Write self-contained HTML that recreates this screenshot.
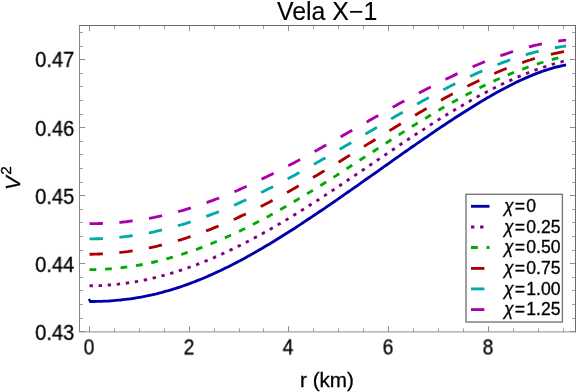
<!DOCTYPE html>
<html><head><meta charset="utf-8"><title>Vela X-1</title>
<style>
html,body{margin:0;padding:0;background:#fff;}
body{width:576px;height:392px;position:relative;overflow:hidden;font-family:"Liberation Sans",sans-serif;color:#000;}
.t{position:absolute;white-space:nowrap;line-height:1;will-change:transform;-webkit-text-stroke:0.3px #000;}
.yl{font-size:20.7px;right:501.9px;text-align:right;transform:scale(0.972,1.09);transform-origin:100% 50%;}
.xl{font-size:20.7px;text-align:center;width:60px;margin-left:-30.7px;top:336.9px;transform:scale(0.93,1.05);transform-origin:50% 50%;}
.lg{font-size:17.6px;left:504.1px;}
.lg i{font-style:italic;}
.lg b{font-weight:normal;margin:0 1.2px 0 1.2px;}
</style></head><body>
<svg width="576" height="392" viewBox="0 0 576 392" style="position:absolute;left:0;top:0">
<path d="M89.5 301.5 L91.9 301.5 L94.3 301.5 L96.7 301.4 L99.1 301.4 L101.5 301.3 L103.9 301.2 L106.3 301.1 L108.7 301.0 L111.1 300.8 L113.4 300.6 L115.8 300.4 L118.2 300.2 L120.6 300.0 L123.0 299.7 L125.4 299.4 L127.8 299.1 L130.2 298.8 L132.6 298.5 L135.0 298.1 L137.4 297.7 L139.8 297.3 L142.2 296.9 L144.6 296.4 L147.0 295.9 L149.4 295.4 L151.8 294.9 L154.2 294.3 L156.6 293.8 L158.9 293.2 L161.3 292.6 L163.7 291.9 L166.1 291.2 L168.5 290.6 L170.9 289.9 L173.3 289.1 L175.7 288.4 L178.1 287.6 L180.5 286.8 L182.9 286.0 L185.3 285.2 L187.7 284.3 L190.1 283.4 L192.5 282.5 L194.9 281.6 L197.3 280.6 L199.7 279.7 L202.1 278.7 L204.5 277.7 L206.8 276.7 L209.2 275.6 L211.6 274.6 L214.0 273.5 L216.4 272.4 L218.8 271.3 L221.2 270.2 L223.6 269.0 L226.0 267.8 L228.4 266.7 L230.8 265.4 L233.2 264.2 L235.6 263.0 L238.0 261.7 L240.4 260.5 L242.8 259.2 L245.2 257.9 L247.6 256.6 L250.0 255.3 L252.3 253.9 L254.7 252.6 L257.1 251.2 L259.5 249.8 L261.9 248.4 L264.3 247.0 L266.7 245.6 L269.1 244.2 L271.5 242.7 L273.9 241.3 L276.3 239.8 L278.7 238.3 L281.1 236.8 L283.5 235.3 L285.9 233.8 L288.3 232.3 L290.7 230.8 L293.1 229.2 L295.5 227.7 L297.8 226.1 L300.2 224.6 L302.6 223.0 L305.0 221.4 L307.4 219.8 L309.8 218.2 L312.2 216.6 L314.6 215.0 L317.0 213.4 L319.4 211.8 L321.8 210.2 L324.2 208.6 L326.6 206.9 L329.0 205.3 L331.4 203.6 L333.8 202.0 L336.2 200.3 L338.6 198.7 L341.0 197.0 L343.3 195.3 L345.7 193.7 L348.1 192.0 L350.5 190.3 L352.9 188.6 L355.3 187.0 L357.7 185.3 L360.1 183.6 L362.5 181.9 L364.9 180.2 L367.3 178.5 L369.7 176.8 L372.1 175.1 L374.5 173.5 L376.9 171.8 L379.3 170.1 L381.7 168.4 L384.1 166.7 L386.5 165.0 L388.9 163.3 L391.2 161.6 L393.6 159.9 L396.0 158.2 L398.4 156.6 L400.8 154.9 L403.2 153.2 L405.6 151.5 L408.0 149.8 L410.4 148.2 L412.8 146.5 L415.2 144.8 L417.6 143.2 L420.0 141.5 L422.4 139.9 L424.8 138.2 L427.2 136.6 L429.6 134.9 L432.0 133.3 L434.4 131.7 L436.7 130.0 L439.1 128.4 L441.5 126.8 L443.9 125.2 L446.3 123.6 L448.7 122.0 L451.1 120.5 L453.5 118.9 L455.9 117.3 L458.3 115.8 L460.7 114.2 L463.1 112.7 L465.5 111.2 L467.9 109.7 L470.3 108.2 L472.7 106.7 L475.1 105.2 L477.5 103.8 L479.9 102.3 L482.2 100.9 L484.6 99.5 L487.0 98.0 L489.4 96.7 L491.8 95.3 L494.2 93.9 L496.6 92.6 L499.0 91.3 L501.4 90.0 L503.8 88.7 L506.2 87.4 L508.6 86.2 L511.0 85.0 L513.4 83.8 L515.8 82.6 L518.2 81.4 L520.6 80.3 L523.0 79.2 L525.4 78.1 L527.7 77.1 L530.1 76.1 L532.5 75.1 L534.9 74.1 L537.3 73.2 L539.7 72.3 L542.1 71.4 L544.5 70.6 L546.9 69.8 L549.3 69.1 L551.7 68.4 L554.1 67.7 L556.5 67.0 L558.9 66.5 L561.3 65.9 L563.7 65.4 L566.1 64.9" fill="none" stroke="#0000aa" stroke-width="2.85"/>
<path d="M89.5 285.8 L91.9 285.7 L94.3 285.7 L96.7 285.7 L99.1 285.6 L101.5 285.5 L103.9 285.3 L106.3 285.2 L108.7 285.0 L111.1 284.8 L113.4 284.6 L115.8 284.4 L118.2 284.2 L120.6 283.9 L123.0 283.6 L125.4 283.3 L127.8 282.9 L130.2 282.6 L132.6 282.2 L135.0 281.8 L137.4 281.4 L139.8 280.9 L142.2 280.4 L144.6 280.0 L147.0 279.5 L149.4 278.9 L151.8 278.4 L154.2 277.8 L156.6 277.2 L158.9 276.6 L161.3 276.0 L163.7 275.4 L166.1 274.7 L168.5 274.0 L170.9 273.3 L173.3 272.6 L175.7 271.9 L178.1 271.1 L180.5 270.3 L182.9 269.5 L185.3 268.7 L187.7 267.9 L190.1 267.0 L192.5 266.2 L194.9 265.3 L197.3 264.4 L199.7 263.4 L202.1 262.5 L204.5 261.5 L206.8 260.6 L209.2 259.6 L211.6 258.6 L214.0 257.6 L216.4 256.5 L218.8 255.5 L221.2 254.4 L223.6 253.3 L226.0 252.2 L228.4 251.1 L230.8 249.9 L233.2 248.8 L235.6 247.6 L238.0 246.4 L240.4 245.3 L242.8 244.0 L245.2 242.8 L247.6 241.6 L250.0 240.3 L252.3 239.1 L254.7 237.8 L257.1 236.5 L259.5 235.2 L261.9 233.9 L264.3 232.6 L266.7 231.2 L269.1 229.9 L271.5 228.5 L273.9 227.1 L276.3 225.7 L278.7 224.3 L281.1 222.9 L283.5 221.5 L285.9 220.1 L288.3 218.6 L290.7 217.2 L293.1 215.7 L295.5 214.2 L297.8 212.8 L300.2 211.3 L302.6 209.8 L305.0 208.3 L307.4 206.7 L309.8 205.2 L312.2 203.7 L314.6 202.2 L317.0 200.6 L319.4 199.1 L321.8 197.5 L324.2 195.9 L326.6 194.4 L329.0 192.8 L331.4 191.2 L333.8 189.6 L336.2 188.0 L338.6 186.4 L341.0 184.8 L343.3 183.2 L345.7 181.6 L348.1 180.0 L350.5 178.4 L352.9 176.8 L355.3 175.2 L357.7 173.5 L360.1 171.9 L362.5 170.3 L364.9 168.7 L367.3 167.0 L369.7 165.4 L372.1 163.8 L374.5 162.2 L376.9 160.5 L379.3 158.9 L381.7 157.3 L384.1 155.6 L386.5 154.0 L388.9 152.4 L391.2 150.8 L393.6 149.2 L396.0 147.6 L398.4 145.9 L400.8 144.3 L403.2 142.7 L405.6 141.1 L408.0 139.5 L410.4 138.0 L412.8 136.4 L415.2 134.8 L417.6 133.2 L420.0 131.7 L422.4 130.1 L424.8 128.6 L427.2 127.0 L429.6 125.5 L432.0 123.9 L434.4 122.4 L436.7 120.9 L439.1 119.4 L441.5 117.9 L443.9 116.4 L446.3 115.0 L448.7 113.5 L451.1 112.0 L453.5 110.6 L455.9 109.2 L458.3 107.8 L460.7 106.3 L463.1 104.9 L465.5 103.6 L467.9 102.2 L470.3 100.8 L472.7 99.5 L475.1 98.2 L477.5 96.8 L479.9 95.5 L482.2 94.3 L484.6 93.0 L487.0 91.7 L489.4 90.5 L491.8 89.3 L494.2 88.1 L496.6 86.9 L499.0 85.7 L501.4 84.5 L503.8 83.4 L506.2 82.3 L508.6 81.2 L511.0 80.1 L513.4 79.0 L515.8 77.9 L518.2 76.9 L520.6 75.9 L523.0 74.9 L525.4 73.9 L527.7 73.0 L530.1 72.0 L532.5 71.1 L534.9 70.2 L537.3 69.3 L539.7 68.5 L542.1 67.7 L544.5 66.8 L546.9 66.1 L549.3 65.3 L551.7 64.5 L554.1 63.8 L556.5 63.1 L558.9 62.4 L561.3 61.8 L563.7 61.1 L566.1 60.5" fill="none" stroke="#800080" stroke-width="2.85" stroke-dasharray="3.4 5.7"/>
<path d="M89.5 269.6 L91.9 269.6 L94.3 269.6 L96.7 269.5 L99.1 269.5 L101.5 269.4 L103.9 269.2 L106.3 269.1 L108.7 268.9 L111.1 268.8 L113.4 268.6 L115.8 268.3 L118.2 268.1 L120.6 267.8 L123.0 267.5 L125.4 267.2 L127.8 266.9 L130.2 266.5 L132.6 266.2 L135.0 265.8 L137.4 265.4 L139.8 265.0 L142.2 264.5 L144.6 264.0 L147.0 263.6 L149.4 263.0 L151.8 262.5 L154.2 262.0 L156.6 261.4 L158.9 260.8 L161.3 260.2 L163.7 259.6 L166.1 259.0 L168.5 258.3 L170.9 257.6 L173.3 257.0 L175.7 256.2 L178.1 255.5 L180.5 254.8 L182.9 254.0 L185.3 253.2 L187.7 252.4 L190.1 251.6 L192.5 250.8 L194.9 249.9 L197.3 249.1 L199.7 248.2 L202.1 247.3 L204.5 246.4 L206.8 245.4 L209.2 244.5 L211.6 243.5 L214.0 242.5 L216.4 241.5 L218.8 240.5 L221.2 239.5 L223.6 238.4 L226.0 237.4 L228.4 236.3 L230.8 235.2 L233.2 234.1 L235.6 233.0 L238.0 231.9 L240.4 230.7 L242.8 229.5 L245.2 228.4 L247.6 227.2 L250.0 226.0 L252.3 224.8 L254.7 223.5 L257.1 222.3 L259.5 221.0 L261.9 219.8 L264.3 218.5 L266.7 217.2 L269.1 215.9 L271.5 214.6 L273.9 213.2 L276.3 211.9 L278.7 210.6 L281.1 209.2 L283.5 207.8 L285.9 206.5 L288.3 205.1 L290.7 203.7 L293.1 202.3 L295.5 200.8 L297.8 199.4 L300.2 198.0 L302.6 196.5 L305.0 195.1 L307.4 193.6 L309.8 192.1 L312.2 190.7 L314.6 189.2 L317.0 187.7 L319.4 186.2 L321.8 184.7 L324.2 183.2 L326.6 181.7 L329.0 180.1 L331.4 178.6 L333.8 177.1 L336.2 175.6 L338.6 174.0 L341.0 172.5 L343.3 170.9 L345.7 169.4 L348.1 167.8 L350.5 166.3 L352.9 164.7 L355.3 163.2 L357.7 161.6 L360.1 160.0 L362.5 158.5 L364.9 156.9 L367.3 155.3 L369.7 153.8 L372.1 152.2 L374.5 150.7 L376.9 149.1 L379.3 147.5 L381.7 146.0 L384.1 144.4 L386.5 142.9 L388.9 141.3 L391.2 139.8 L393.6 138.2 L396.0 136.7 L398.4 135.2 L400.8 133.6 L403.2 132.1 L405.6 130.6 L408.0 129.1 L410.4 127.5 L412.8 126.0 L415.2 124.5 L417.6 123.1 L420.0 121.6 L422.4 120.1 L424.8 118.6 L427.2 117.2 L429.6 115.7 L432.0 114.3 L434.4 112.8 L436.7 111.4 L439.1 110.0 L441.5 108.6 L443.9 107.2 L446.3 105.8 L448.7 104.5 L451.1 103.1 L453.5 101.7 L455.9 100.4 L458.3 99.1 L460.7 97.8 L463.1 96.5 L465.5 95.2 L467.9 93.9 L470.3 92.7 L472.7 91.4 L475.1 90.2 L477.5 89.0 L479.9 87.8 L482.2 86.6 L484.6 85.4 L487.0 84.3 L489.4 83.1 L491.8 82.0 L494.2 80.9 L496.6 79.8 L499.0 78.7 L501.4 77.7 L503.8 76.7 L506.2 75.6 L508.6 74.6 L511.0 73.6 L513.4 72.7 L515.8 71.7 L518.2 70.8 L520.6 69.9 L523.0 69.0 L525.4 68.1 L527.7 67.2 L530.1 66.4 L532.5 65.6 L534.9 64.8 L537.3 64.0 L539.7 63.2 L542.1 62.5 L544.5 61.7 L546.9 61.0 L549.3 60.3 L551.7 59.7 L554.1 59.0 L556.5 58.4 L558.9 57.8 L561.3 57.2 L563.7 56.6 L566.1 56.0" fill="none" stroke="#00aa00" stroke-width="2.85" stroke-dasharray="6.8 8.765"/>
<path d="M89.5 254.2 L91.9 254.2 L94.3 254.1 L96.7 254.1 L99.1 254.0 L101.5 253.9 L103.9 253.8 L106.3 253.7 L108.7 253.5 L111.1 253.3 L113.4 253.1 L115.8 252.9 L118.2 252.7 L120.6 252.4 L123.0 252.2 L125.4 251.9 L127.8 251.6 L130.2 251.2 L132.6 250.9 L135.0 250.5 L137.4 250.1 L139.8 249.7 L142.2 249.3 L144.6 248.8 L147.0 248.3 L149.4 247.8 L151.8 247.3 L154.2 246.8 L156.6 246.3 L158.9 245.7 L161.3 245.1 L163.7 244.5 L166.1 243.9 L168.5 243.3 L170.9 242.6 L173.3 241.9 L175.7 241.2 L178.1 240.5 L180.5 239.8 L182.9 239.1 L185.3 238.3 L187.7 237.5 L190.1 236.7 L192.5 235.9 L194.9 235.1 L197.3 234.3 L199.7 233.4 L202.1 232.5 L204.5 231.6 L206.8 230.7 L209.2 229.8 L211.6 228.9 L214.0 227.9 L216.4 226.9 L218.8 225.9 L221.2 224.9 L223.6 223.9 L226.0 222.9 L228.4 221.9 L230.8 220.8 L233.2 219.7 L235.6 218.7 L238.0 217.6 L240.4 216.4 L242.8 215.3 L245.2 214.2 L247.6 213.0 L250.0 211.9 L252.3 210.7 L254.7 209.5 L257.1 208.3 L259.5 207.1 L261.9 205.9 L264.3 204.7 L266.7 203.4 L269.1 202.2 L271.5 200.9 L273.9 199.6 L276.3 198.3 L278.7 197.0 L281.1 195.7 L283.5 194.4 L285.9 193.1 L288.3 191.8 L290.7 190.4 L293.1 189.1 L295.5 187.7 L297.8 186.3 L300.2 185.0 L302.6 183.6 L305.0 182.2 L307.4 180.8 L309.8 179.4 L312.2 178.0 L314.6 176.6 L317.0 175.2 L319.4 173.7 L321.8 172.3 L324.2 170.9 L326.6 169.4 L329.0 168.0 L331.4 166.5 L333.8 165.1 L336.2 163.6 L338.6 162.2 L341.0 160.7 L343.3 159.2 L345.7 157.7 L348.1 156.3 L350.5 154.8 L352.9 153.3 L355.3 151.8 L357.7 150.4 L360.1 148.9 L362.5 147.4 L364.9 145.9 L367.3 144.4 L369.7 142.9 L372.1 141.5 L374.5 140.0 L376.9 138.5 L379.3 137.0 L381.7 135.5 L384.1 134.1 L386.5 132.6 L388.9 131.1 L391.2 129.6 L393.6 128.2 L396.0 126.7 L398.4 125.3 L400.8 123.8 L403.2 122.3 L405.6 120.9 L408.0 119.5 L410.4 118.0 L412.8 116.6 L415.2 115.2 L417.6 113.7 L420.0 112.3 L422.4 110.9 L424.8 109.5 L427.2 108.1 L429.6 106.8 L432.0 105.4 L434.4 104.0 L436.7 102.7 L439.1 101.3 L441.5 100.0 L443.9 98.6 L446.3 97.3 L448.7 96.0 L451.1 94.7 L453.5 93.4 L455.9 92.2 L458.3 90.9 L460.7 89.6 L463.1 88.4 L465.5 87.2 L467.9 85.9 L470.3 84.7 L472.7 83.6 L475.1 82.4 L477.5 81.2 L479.9 80.1 L482.2 78.9 L484.6 77.8 L487.0 76.7 L489.4 75.6 L491.8 74.6 L494.2 73.5 L496.6 72.5 L499.0 71.5 L501.4 70.5 L503.8 69.5 L506.2 68.5 L508.6 67.6 L511.0 66.7 L513.4 65.8 L515.8 64.9 L518.2 64.0 L520.6 63.2 L523.0 62.3 L525.4 61.5 L527.7 60.7 L530.1 60.0 L532.5 59.2 L534.9 58.5 L537.3 57.8 L539.7 57.1 L542.1 56.5 L544.5 55.9 L546.9 55.3 L549.3 54.7 L551.7 54.1 L554.1 53.6 L556.5 53.1 L558.9 52.6 L561.3 52.1 L563.7 51.7 L566.1 51.3" fill="none" stroke="#aa0000" stroke-width="2.85" stroke-dasharray="13.4 16.5"/>
<path d="M89.5 238.8 L91.9 238.8 L94.3 238.8 L96.7 238.7 L99.1 238.7 L101.5 238.6 L103.9 238.5 L106.3 238.3 L108.7 238.2 L111.1 238.0 L113.4 237.8 L115.8 237.6 L118.2 237.4 L120.6 237.2 L123.0 236.9 L125.4 236.6 L127.8 236.3 L130.2 236.0 L132.6 235.7 L135.0 235.3 L137.4 234.9 L139.8 234.5 L142.2 234.1 L144.6 233.7 L147.0 233.2 L149.4 232.8 L151.8 232.3 L154.2 231.8 L156.6 231.2 L158.9 230.7 L161.3 230.1 L163.7 229.6 L166.1 229.0 L168.5 228.3 L170.9 227.7 L173.3 227.1 L175.7 226.4 L178.1 225.7 L180.5 225.0 L182.9 224.3 L185.3 223.6 L187.7 222.8 L190.1 222.0 L192.5 221.3 L194.9 220.5 L197.3 219.6 L199.7 218.8 L202.1 218.0 L204.5 217.1 L206.8 216.2 L209.2 215.3 L211.6 214.4 L214.0 213.5 L216.4 212.6 L218.8 211.6 L221.2 210.6 L223.6 209.7 L226.0 208.7 L228.4 207.7 L230.8 206.6 L233.2 205.6 L235.6 204.6 L238.0 203.5 L240.4 202.4 L242.8 201.3 L245.2 200.2 L247.6 199.1 L250.0 198.0 L252.3 196.9 L254.7 195.7 L257.1 194.6 L259.5 193.4 L261.9 192.2 L264.3 191.0 L266.7 189.8 L269.1 188.6 L271.5 187.4 L273.9 186.2 L276.3 184.9 L278.7 183.7 L281.1 182.4 L283.5 181.1 L285.9 179.9 L288.3 178.6 L290.7 177.3 L293.1 176.0 L295.5 174.7 L297.8 173.3 L300.2 172.0 L302.6 170.7 L305.0 169.3 L307.4 168.0 L309.8 166.6 L312.2 165.3 L314.6 163.9 L317.0 162.6 L319.4 161.2 L321.8 159.8 L324.2 158.4 L326.6 157.0 L329.0 155.6 L331.4 154.2 L333.8 152.8 L336.2 151.4 L338.6 150.0 L341.0 148.6 L343.3 147.2 L345.7 145.8 L348.1 144.4 L350.5 143.0 L352.9 141.5 L355.3 140.1 L357.7 138.7 L360.1 137.3 L362.5 135.9 L364.9 134.4 L367.3 133.0 L369.7 131.6 L372.1 130.2 L374.5 128.7 L376.9 127.3 L379.3 125.9 L381.7 124.5 L384.1 123.1 L386.5 121.7 L388.9 120.3 L391.2 118.9 L393.6 117.5 L396.0 116.1 L398.4 114.7 L400.8 113.3 L403.2 111.9 L405.6 110.5 L408.0 109.2 L410.4 107.8 L412.8 106.4 L415.2 105.1 L417.6 103.7 L420.0 102.4 L422.4 101.0 L424.8 99.7 L427.2 98.4 L429.6 97.1 L432.0 95.8 L434.4 94.5 L436.7 93.2 L439.1 91.9 L441.5 90.7 L443.9 89.4 L446.3 88.2 L448.7 86.9 L451.1 85.7 L453.5 84.5 L455.9 83.3 L458.3 82.1 L460.7 80.9 L463.1 79.8 L465.5 78.6 L467.9 77.5 L470.3 76.3 L472.7 75.2 L475.1 74.1 L477.5 73.0 L479.9 72.0 L482.2 70.9 L484.6 69.9 L487.0 68.9 L489.4 67.9 L491.8 66.9 L494.2 65.9 L496.6 64.9 L499.0 64.0 L501.4 63.1 L503.8 62.2 L506.2 61.3 L508.6 60.4 L511.0 59.6 L513.4 58.7 L515.8 57.9 L518.2 57.1 L520.6 56.4 L523.0 55.6 L525.4 54.9 L527.7 54.2 L530.1 53.5 L532.5 52.9 L534.9 52.2 L537.3 51.6 L539.7 51.0 L542.1 50.4 L544.5 49.9 L546.9 49.4 L549.3 48.9 L551.7 48.4 L554.1 47.9 L556.5 47.5 L558.9 47.1 L561.3 46.7 L563.7 46.4 L566.1 46.0" fill="none" stroke="#00aaaa" stroke-width="2.85" stroke-dasharray="13.4 16.5"/>
<path d="M89.5 223.7 L91.9 223.6 L94.3 223.6 L96.7 223.6 L99.1 223.5 L101.5 223.5 L103.9 223.4 L106.3 223.3 L108.7 223.1 L111.1 223.0 L113.4 222.8 L115.8 222.7 L118.2 222.5 L120.6 222.3 L123.0 222.0 L125.4 221.8 L127.8 221.5 L130.2 221.2 L132.6 220.9 L135.0 220.6 L137.4 220.3 L139.8 219.9 L142.2 219.5 L144.6 219.1 L147.0 218.7 L149.4 218.3 L151.8 217.8 L154.2 217.4 L156.6 216.9 L158.9 216.4 L161.3 215.9 L163.7 215.3 L166.1 214.7 L168.5 214.2 L170.9 213.6 L173.3 213.0 L175.7 212.3 L178.1 211.7 L180.5 211.0 L182.9 210.3 L185.3 209.6 L187.7 208.9 L190.1 208.2 L192.5 207.4 L194.9 206.7 L197.3 205.9 L199.7 205.1 L202.1 204.2 L204.5 203.4 L206.8 202.6 L209.2 201.7 L211.6 200.8 L214.0 199.9 L216.4 199.0 L218.8 198.1 L221.2 197.1 L223.6 196.2 L226.0 195.2 L228.4 194.2 L230.8 193.2 L233.2 192.2 L235.6 191.2 L238.0 190.2 L240.4 189.1 L242.8 188.0 L245.2 187.0 L247.6 185.9 L250.0 184.8 L252.3 183.7 L254.7 182.5 L257.1 181.4 L259.5 180.3 L261.9 179.1 L264.3 177.9 L266.7 176.8 L269.1 175.6 L271.5 174.4 L273.9 173.2 L276.3 172.0 L278.7 170.7 L281.1 169.5 L283.5 168.3 L285.9 167.0 L288.3 165.8 L290.7 164.5 L293.1 163.2 L295.5 161.9 L297.8 160.7 L300.2 159.4 L302.6 158.1 L305.0 156.8 L307.4 155.5 L309.8 154.1 L312.2 152.8 L314.6 151.5 L317.0 150.2 L319.4 148.8 L321.8 147.5 L324.2 146.1 L326.6 144.8 L329.0 143.5 L331.4 142.1 L333.8 140.7 L336.2 139.4 L338.6 138.0 L341.0 136.7 L343.3 135.3 L345.7 133.9 L348.1 132.6 L350.5 131.2 L352.9 129.8 L355.3 128.5 L357.7 127.1 L360.1 125.7 L362.5 124.4 L364.9 123.0 L367.3 121.7 L369.7 120.3 L372.1 118.9 L374.5 117.6 L376.9 116.2 L379.3 114.9 L381.7 113.5 L384.1 112.2 L386.5 110.8 L388.9 109.5 L391.2 108.1 L393.6 106.8 L396.0 105.5 L398.4 104.1 L400.8 102.8 L403.2 101.5 L405.6 100.2 L408.0 98.9 L410.4 97.6 L412.8 96.3 L415.2 95.0 L417.6 93.7 L420.0 92.5 L422.4 91.2 L424.8 89.9 L427.2 88.7 L429.6 87.5 L432.0 86.2 L434.4 85.0 L436.7 83.8 L439.1 82.6 L441.5 81.4 L443.9 80.2 L446.3 79.0 L448.7 77.9 L451.1 76.7 L453.5 75.6 L455.9 74.4 L458.3 73.3 L460.7 72.2 L463.1 71.1 L465.5 70.0 L467.9 68.9 L470.3 67.9 L472.7 66.8 L475.1 65.8 L477.5 64.8 L479.9 63.8 L482.2 62.8 L484.6 61.8 L487.0 60.9 L489.4 59.9 L491.8 59.0 L494.2 58.1 L496.6 57.2 L499.0 56.3 L501.4 55.4 L503.8 54.6 L506.2 53.8 L508.6 53.0 L511.0 52.2 L513.4 51.4 L515.8 50.7 L518.2 49.9 L520.6 49.2 L523.0 48.5 L525.4 47.9 L527.7 47.2 L530.1 46.6 L532.5 46.0 L534.9 45.4 L537.3 44.9 L539.7 44.3 L542.1 43.8 L544.5 43.3 L546.9 42.9 L549.3 42.5 L551.7 42.1 L554.1 41.7 L556.5 41.3 L558.9 41.0 L561.3 40.7 L563.7 40.4 L566.1 40.2" fill="none" stroke="#aa00aa" stroke-width="2.85" stroke-dasharray="13.4 16.5"/>
<path d="M89.4 300.0 L90.6 301.5" fill="none" stroke="#0000aa" stroke-width="2.6" stroke-linecap="round"/>
<path d="M89.5 331.8 v-5.6 M89.5 25.5 v5.6 M189.5 331.8 v-5.6 M189.5 25.5 v5.6 M288.5 331.8 v-5.6 M288.5 25.5 v5.6 M388.5 331.8 v-5.6 M388.5 25.5 v5.6 M488.5 331.8 v-5.6 M488.5 25.5 v5.6 M79.5 331.5 h5.6 M575.5 331.5 h-5.6 M79.5 263.5 h5.6 M575.5 263.5 h-5.6 M79.5 195.5 h5.6 M575.5 195.5 h-5.6 M79.5 127.5 h5.6 M575.5 127.5 h-5.6 M79.5 59.5 h5.6 M575.5 59.5 h-5.6" fill="none" stroke="#8e8e8e" stroke-width="1"/>
<path d="M114.5 331.8 v-3.5 M114.5 25.5 v3.5 M139.5 331.8 v-3.5 M139.5 25.5 v3.5 M164.5 331.8 v-3.5 M164.5 25.5 v3.5 M214.5 331.8 v-3.5 M214.5 25.5 v3.5 M239.5 331.8 v-3.5 M239.5 25.5 v3.5 M263.5 331.8 v-3.5 M263.5 25.5 v3.5 M313.5 331.8 v-3.5 M313.5 25.5 v3.5 M338.5 331.8 v-3.5 M338.5 25.5 v3.5 M363.5 331.8 v-3.5 M363.5 25.5 v3.5 M413.5 331.8 v-3.5 M413.5 25.5 v3.5 M438.5 331.8 v-3.5 M438.5 25.5 v3.5 M463.5 331.8 v-3.5 M463.5 25.5 v3.5 M513.5 331.8 v-3.5 M513.5 25.5 v3.5 M538.5 331.8 v-3.5 M538.5 25.5 v3.5 M563.5 331.8 v-3.5 M563.5 25.5 v3.5 M79.5 318.5 h3.5 M575.5 318.5 h-3.5 M79.5 304.5 h3.5 M575.5 304.5 h-3.5 M79.5 290.5 h3.5 M575.5 290.5 h-3.5 M79.5 277.5 h3.5 M575.5 277.5 h-3.5 M79.5 250.5 h3.5 M575.5 250.5 h-3.5 M79.5 236.5 h3.5 M575.5 236.5 h-3.5 M79.5 222.5 h3.5 M575.5 222.5 h-3.5 M79.5 209.5 h3.5 M575.5 209.5 h-3.5 M79.5 182.5 h3.5 M575.5 182.5 h-3.5 M79.5 168.5 h3.5 M575.5 168.5 h-3.5 M79.5 154.5 h3.5 M575.5 154.5 h-3.5 M79.5 141.5 h3.5 M575.5 141.5 h-3.5 M79.5 114.5 h3.5 M575.5 114.5 h-3.5 M79.5 100.5 h3.5 M575.5 100.5 h-3.5 M79.5 86.5 h3.5 M575.5 86.5 h-3.5 M79.5 73.5 h3.5 M575.5 73.5 h-3.5 M79.5 46.5 h3.5 M575.5 46.5 h-3.5 M79.5 32.5 h3.5 M575.5 32.5 h-3.5" fill="none" stroke="#a0a0a0" stroke-width="1"/>
<path d="M79.0 25.5 H576 M575.5 25.5 V332.2" fill="none" stroke="#6c6c6c" stroke-width="1"/>
<path d="M79.5 25.5 V332.2" fill="none" stroke="#868686" stroke-width="1"/>
<path d="M79.0 331.90000000000003 H576" fill="none" stroke="#8c8c8c" stroke-width="1"/>
<rect x="466.0" y="194.3" width="96.39999999999998" height="127.69999999999999" fill="#fff" stroke="#787878" stroke-width="1.4"/>
<path d="M471 206.3 H489.5" fill="none" stroke="#0000aa" stroke-width="2.85"/>
<path d="M471 227 H489.0" fill="none" stroke="#800080" stroke-width="2.85" stroke-dasharray="3.4 5.7"/>
<path d="M471 247.5 H489.5" fill="none" stroke="#00aa00" stroke-width="2.85" stroke-dasharray="6.8 8.765"/>
<path d="M471 268.4 H489.5" fill="none" stroke="#aa0000" stroke-width="2.85" stroke-dasharray="13.4 16.5"/>
<path d="M471 288.9 H489.5" fill="none" stroke="#00aaaa" stroke-width="2.85" stroke-dasharray="13.4 16.5"/>
<path d="M471 309.6 H489.5" fill="none" stroke="#aa00aa" stroke-width="2.85" stroke-dasharray="13.4 16.5"/>
</svg>
<div class="t" style="font-size:24.9px;left:276.6px;top:-0.7px;-webkit-text-stroke:0.12px #000;">Vela X−1</div>
<div class="t yl" style="top:321.7px">0.43</div>
<div class="t yl" style="top:253.6px">0.44</div>
<div class="t yl" style="top:185.5px">0.45</div>
<div class="t yl" style="top:117.5px">0.46</div>
<div class="t yl" style="top:49.4px">0.47</div>
<div class="t xl" style="left:89.5px">0</div>
<div class="t xl" style="left:189.2px">2</div>
<div class="t xl" style="left:288.9px">4</div>
<div class="t xl" style="left:388.6px">6</div>
<div class="t xl" style="left:488.3px">8</div>
<div class="t" style="font-size:20.7px;left:300.2px;top:369.6px;">r (km)</div>
<div class="t" style="font-size:20.7px;left:0;top:0;transform-origin:0 0;transform:translate(3px,190px) rotate(-90deg);"><i>V</i><span style="font-size:15.4px;position:relative;top:-9.5px;left:1.5px">2</span></div>
<div class="t lg" style="top:198.0px"><i>χ</i><b>=</b>0</div>
<div class="t lg" style="top:218.7px"><i>χ</i><b>=</b>0.25</div>
<div class="t lg" style="top:239.2px"><i>χ</i><b>=</b>0.50</div>
<div class="t lg" style="top:260.1px"><i>χ</i><b>=</b>0.75</div>
<div class="t lg" style="top:280.6px"><i>χ</i><b>=</b>1.00</div>
<div class="t lg" style="top:301.3px"><i>χ</i><b>=</b>1.25</div>
</body></html>
